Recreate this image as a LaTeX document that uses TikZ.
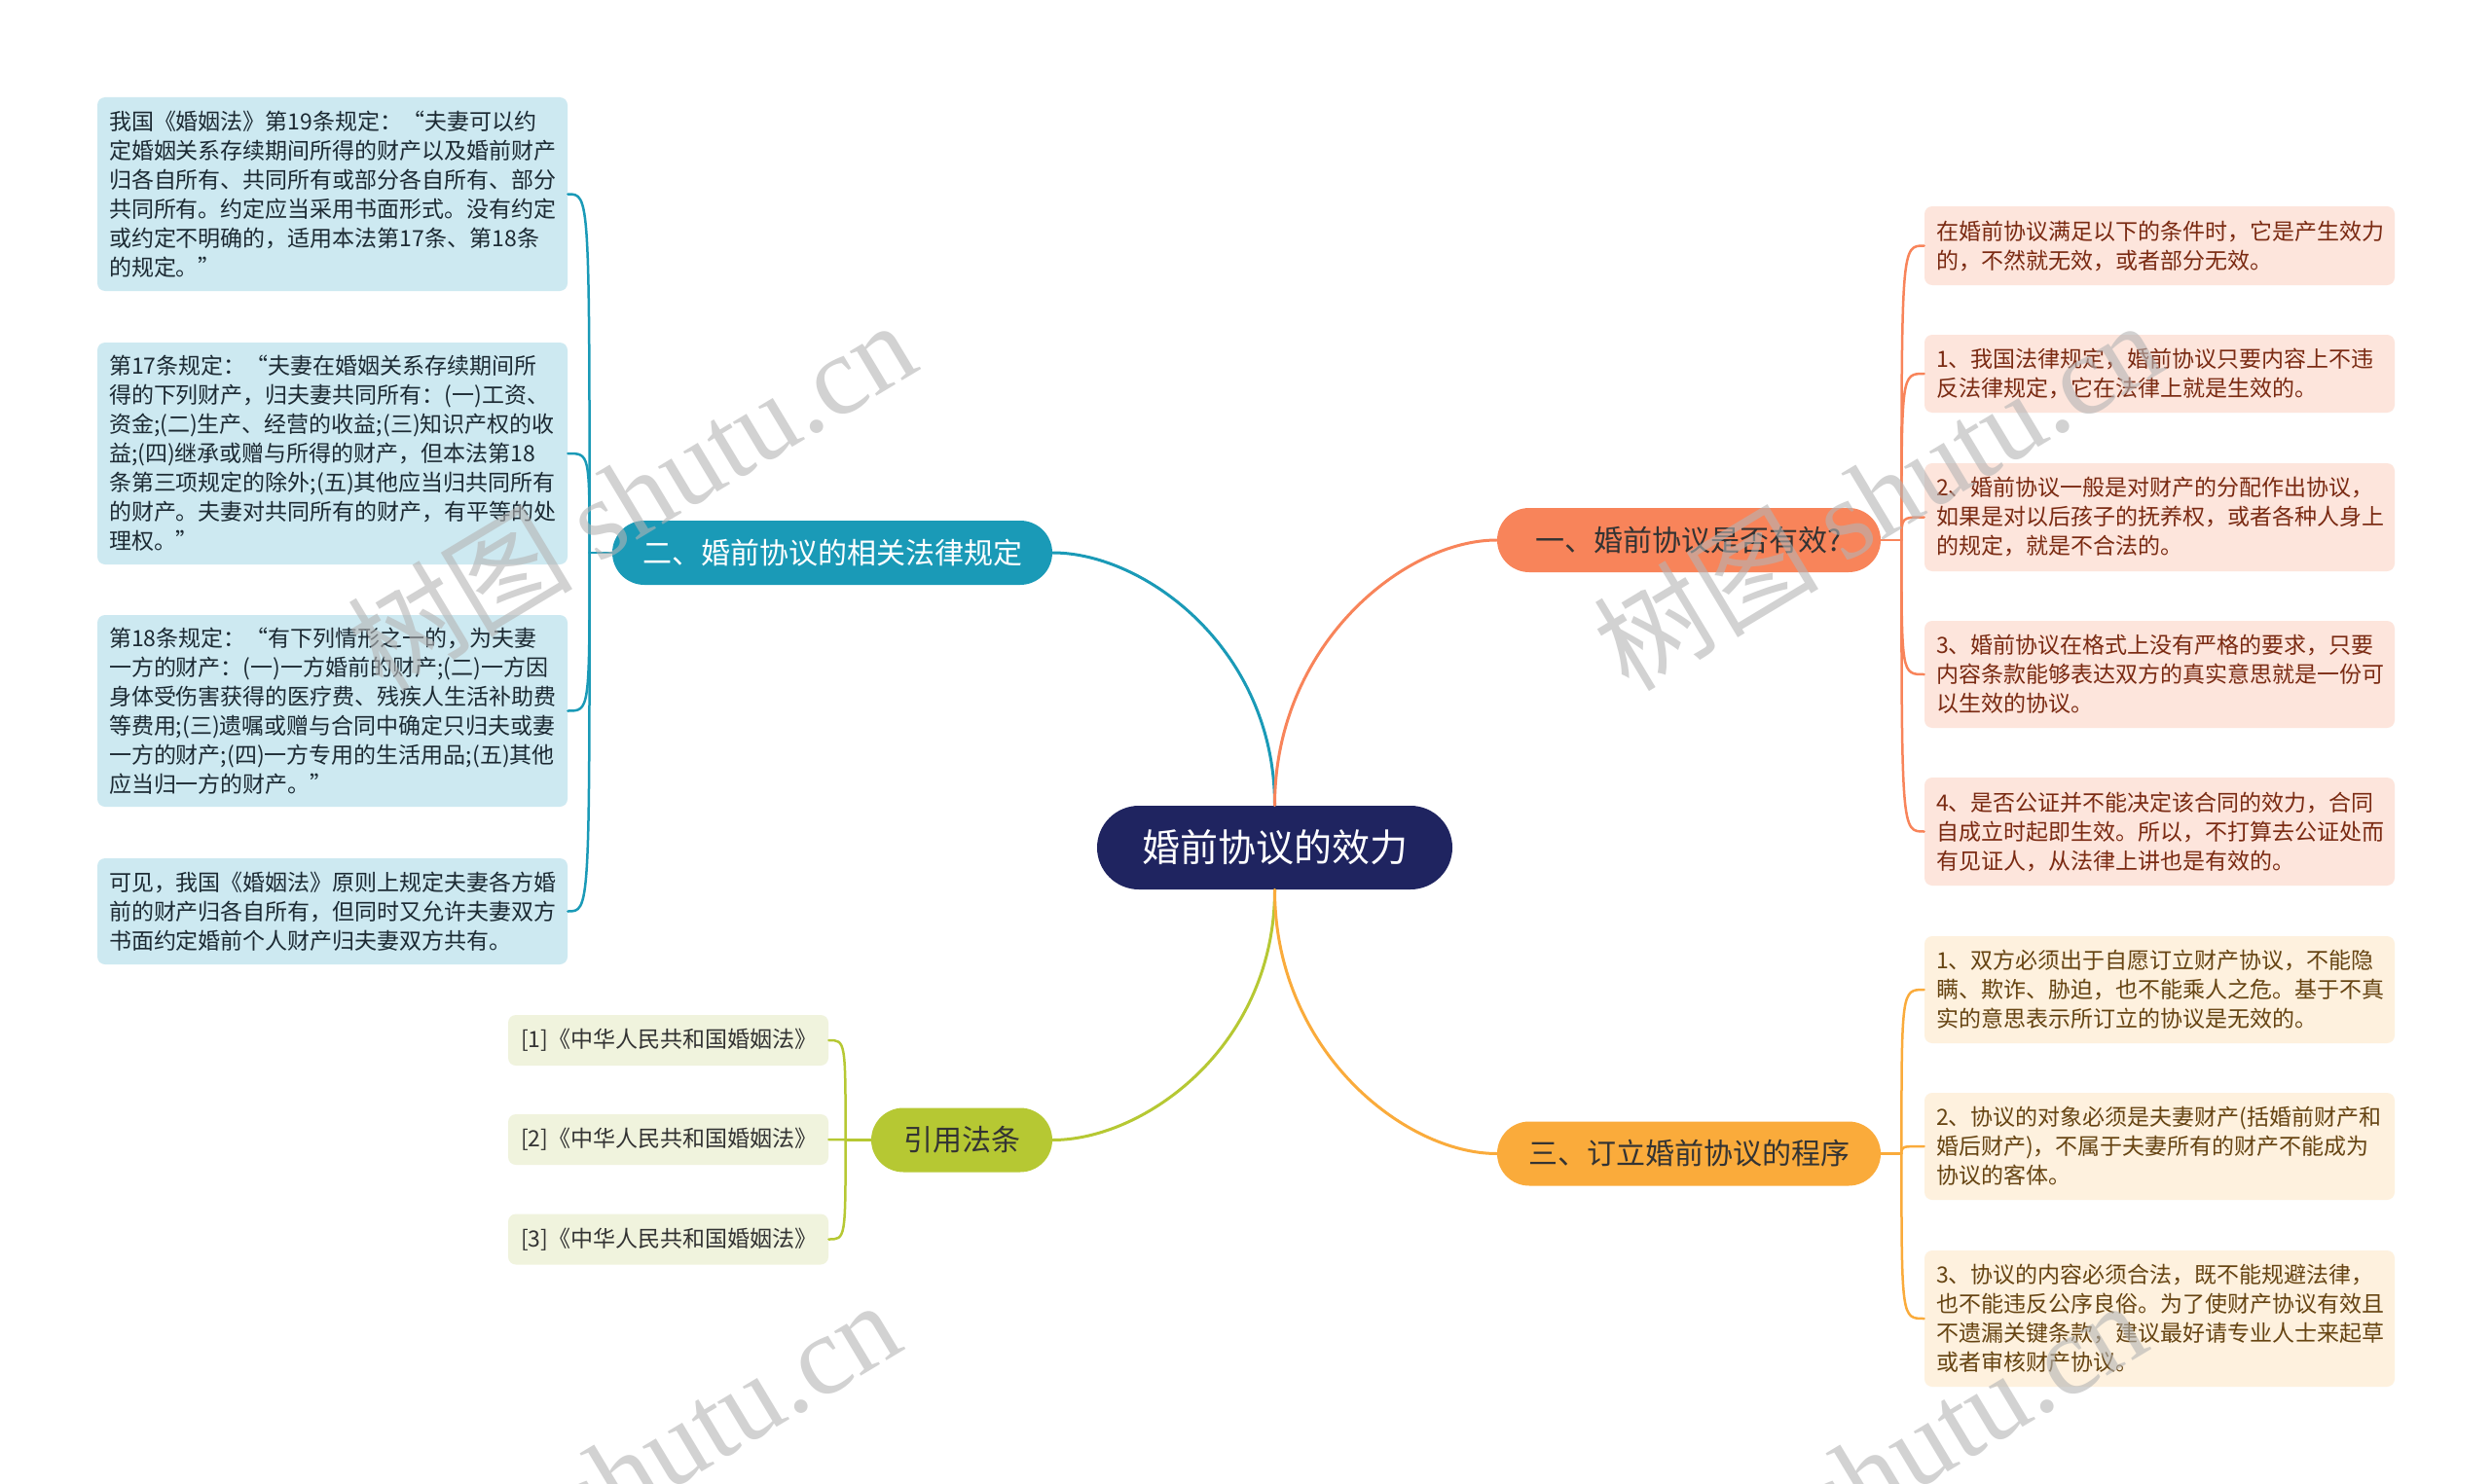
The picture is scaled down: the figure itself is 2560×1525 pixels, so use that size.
\documentclass[tikz,border=0pt]{standalone}
\usepackage{fontspec}
\setmainfont{Noto Sans CJK SC}
\newfontfamily\wmlatin{Liberation Serif}
\usetikzlibrary{shapes.misc}
\definecolor{mapnavy}{HTML}{1F2460}
\definecolor{maporange}{HTML}{F8845A}
\definecolor{mapamber}{HTML}{FAAB3B}
\definecolor{mapteal}{HTML}{1A9AB7}
\definecolor{mapolive}{HTML}{B6C833}
\definecolor{tealleaf}{HTML}{CDE9F1}
\definecolor{orangeleaf}{HTML}{FDE5DC}
\definecolor{amberleaf}{HTML}{FEF1DE}
\definecolor{oliveleaf}{HTML}{F0F3DD}
\definecolor{tealtext}{HTML}{1C2A33}
\definecolor{orangetext}{HTML}{7A2A12}
\definecolor{ambertext}{HTML}{664412}
\definecolor{wmgrey}{HTML}{B4B4B4}

\begin{document}
\begin{tikzpicture}[x=0.5pt, y=-0.5pt, line cap=round, line join=round,
  leaf/.style={rectangle, rounded corners=4pt, inner xsep=6pt, inner ysep=0pt,
    text width=229.5pt, align=left, font=\fontsize{11.5pt}{15pt}\selectfont},
  tealbox/.style={leaf, fill=tealleaf, text=tealtext},
  orangebox/.style={leaf, fill=orangeleaf, text=orangetext},
  amberbox/.style={leaf, fill=amberleaf, text=ambertext},
  citebox/.style={leaf, fill=oliveleaf, text=black!80, text width=151.5pt, inner xsep=6.5pt, minimum height=26pt},
  topic/.style={rounded rectangle, minimum height=33pt, inner sep=0pt, font=\fontsize{15pt}{18pt}\selectfont},
  trunk/.style={line width=1.5pt},
  twig/.style={line width=1.25pt},
  wm/.style={text=wmgrey, text opacity=0.6, font=\fontsize{58pt}{62pt}\selectfont, rotate=31}]
  \fill[white] (0,0) rectangle (2560,1525);
  \useasboundingbox (0,0) rectangle (2560,1525);
  % root + main topics
  \node[topic, fill=mapnavy, text=white, minimum width=182.5pt, minimum height=43pt,
    font=\fontsize{19.5pt}{22pt}\selectfont] (root) at (1309.5,871) {婚前协议的效力};
  \node[topic, fill=maporange, text=black!80, minimum width=197pt] (valid) at (1735,555) {一、婚前协议是否有效?};
  \node[topic, fill=mapteal, text=white, minimum width=226pt] (laws) at (855,568) {二、婚前协议的相关法律规定};
  \node[topic, fill=mapamber, text=black!80, minimum width=197pt] (steps) at (1735,1185.5) {三、订立婚前协议的程序};
  \node[topic, fill=mapolive, text=black!80, minimum width=93pt] (cites) at (988,1171.5) {引用法条};
  % left: legal rules
  \node[tealbox, minimum height=99.5pt] (lb1) at (341.5,199.5) {我国《婚姻法》第19条规定：“夫妻可以约\\定婚姻关系存续期间所得的财产以及婚前财产\\归各自所有、共同所有或部分各自所有、部分\\共同所有。约定应当采用书面形式。没有约定\\或约定不明确的，适用本法第17条、第18条\\的规定。”};
  \node[tealbox, minimum height=114pt] (lb2) at (341.5,466) {第17条规定：“夫妻在婚姻关系存续期间所\\得的下列财产，归夫妻共同所有：(一)工资、\\资金;(二)生产、经营的收益;(三)知识产权的收\\益;(四)继承或赠与所得的财产，但本法第18\\条第三项规定的除外;(五)其他应当归共同所有\\的财产。夫妻对共同所有的财产，有平等的处\\理权。”};
  \node[tealbox, minimum height=98.5pt] (lb3) at (341.5,730.5) {第18条规定：“有下列情形之一的，为夫妻\\一方的财产：(一)一方婚前的财产;(二)一方因\\身体受伤害获得的医疗费、残疾人生活补助费\\等费用;(三)遗嘱或赠与合同中确定只归夫或妻\\一方的财产;(四)一方专用的生活用品;(五)其他\\应当归一方的财产。”};
  \node[tealbox, minimum height=54.5pt] (lb4) at (341.5,936.5) {可见，我国《婚姻法》原则上规定夫妻各方婚\\前的财产归各自所有，但同时又允许夫妻双方\\书面约定婚前个人财产归夫妻双方共有。};
  % citations
  \foreach \i/\y in {1/1069,2/1171,3/1273.5}
    \node[citebox] (cb\i) at (686.5,\y) {[\i]《中华人民共和国婚姻法》};
  % right: validity
  \node[orangebox, minimum height=40.5pt] (ra) at (2218.5,252.5) {在婚前协议满足以下的条件时，它是产生效力\\的，不然就无效，或者部分无效。};
  \node[orangebox, minimum height=40pt] (rb) at (2218.5,384) {1、我国法律规定，婚前协议只要内容上不违\\反法律规定，它在法律上就是生效的。};
  \node[orangebox, minimum height=55.5pt] (rc) at (2218.5,531.5) {2、婚前协议一般是对财产的分配作出协议，\\如果是对以后孩子的抚养权，或者各种人身上\\的规定，就是不合法的。};
  \node[orangebox, minimum height=55pt] (rd) at (2218.5,693) {3、婚前协议在格式上没有严格的要求，只要\\内容条款能够表达双方的真实意思就是一份可\\以生效的协议。};
  \node[orangebox, minimum height=55.5pt] (re) at (2218.5,854.5) {4、是否公证并不能决定该合同的效力，合同\\自成立时起即生效。所以，不打算去公证处而\\有见证人，从法律上讲也是有效的。};
  % right: procedure
  \node[amberbox, minimum height=55pt] (rf) at (2218.5,1017) {1、双方必须出于自愿订立财产协议，不能隐\\瞒、欺诈、胁迫，也不能乘人之危。基于不真\\实的意思表示所订立的协议是无效的。};
  \node[amberbox, minimum height=55pt] (rg) at (2218.5,1178) {2、协议的对象必须是夫妻财产(括婚前财产和\\婚后财产)，不属于夫妻所有的财产不能成为\\协议的客体。};
  \node[amberbox, minimum height=70pt] (rh) at (2218.5,1355) {3、协议的内容必须合法，既不能规避法律，\\也不能违反公序良俗。为了使财产协议有效且\\不遗漏关键条款，建议最好请专业人士来起草\\或者审核财产协议。};
  % trunk curves
  \draw[trunk, mapteal] (root.north) .. controls +(0,-160) and +(95,0) .. (laws.east);
  \draw[trunk, maporange] (root.north) .. controls +(0,-165) and +(-95,0) .. (valid.west);
  \draw[trunk, mapolive] (root.south) .. controls +(0,160) and +(95,0) .. (cites.east);
  \draw[trunk, mapamber] (root.south) .. controls +(0,165) and +(-95,0) .. (steps.west);
  % brackets
  \path (laws.west) ++(-23,0) coordinate (tj);
  \path (cites.west) ++(-26,0) coordinate (gj);
  \path (valid.east) ++(21,0) coordinate (oj);
  \path (steps.east) ++(21,0) coordinate (aj);
  \draw[twig, mapteal] (laws.west) -- (tj);
  \foreach \n in {lb1,lb2,lb3,lb4}
    \draw[twig, mapteal] (tj) .. controls (tj |- \n.east) .. (\n.east);
  \draw[twig, mapolive] (cites.west) -- (gj);
  \foreach \n in {cb1,cb2,cb3}
    \draw[twig, mapolive] (gj) .. controls (gj |- \n.east) .. (\n.east);
  \draw[twig, maporange] (valid.east) -- (oj);
  \foreach \n in {ra,rb,rc,rd,re}
    \draw[twig, maporange] (oj) .. controls (oj |- \n.west) .. (\n.west);
  \draw[twig, mapamber] (steps.east) -- (aj);
  \foreach \n in {rf,rg,rh}
    \draw[twig, mapamber] (aj) .. controls (aj |- \n.west) .. (\n.west);
  % watermarks
  \foreach \x/\y in {648/508,1928/508,632/1515,1912/1515}
    \node[wm] at (\x,\y) {树图 {\wmlatin shutu.cn}};
\end{tikzpicture}
\end{document}
